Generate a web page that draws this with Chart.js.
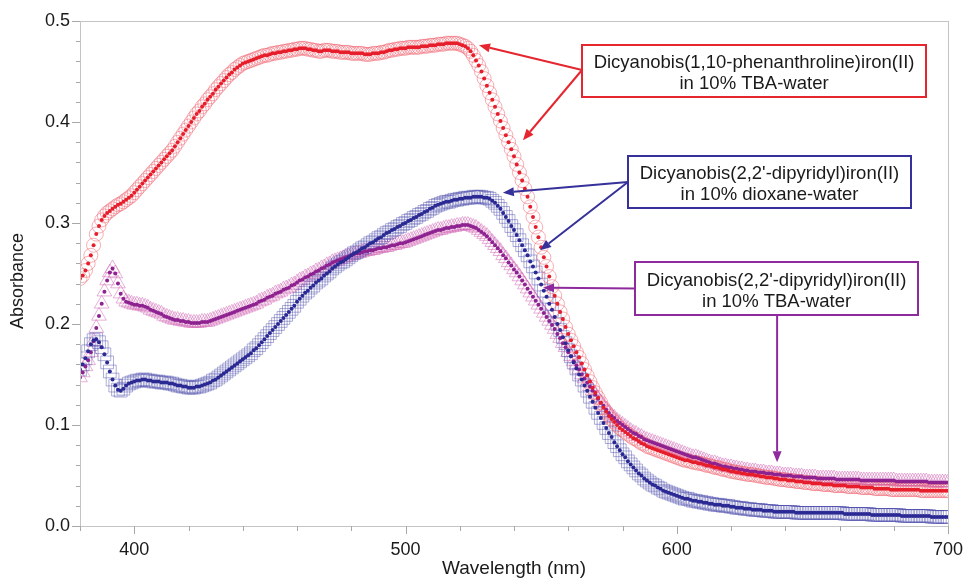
<!DOCTYPE html>
<html>
<head>
<meta charset="utf-8">
<title>Absorbance spectra</title>
<script src="https://cdn.jsdelivr.net/npm/chart.js@4.4.1/dist/chart.umd.min.js"></script>
<style>
  html, body { margin: 0; padding: 0; background: #ffffff; }
  canvas { display: block; }
</style>
</head>
<body>
<canvas id="absChart" width="967" height="580"></canvas>
<script>
const FONT = '"Liberation Sans", Arial, Helvetica, sans-serif';

// wavelength axis, one reading per nm
const wavelengths = [];
for (let nm = 380; nm <= 700; nm++) {
    wavelengths.push(nm);
}

// Dicyanobis(1,10-phenanthroline)iron(II), 10% TBA-water
const phenTba = [
    0.245,0.248,0.253,0.260,0.268,0.278,0.289,0.297,0.303,0.307, // 380
    0.310,0.312,0.314,0.316,0.318,0.319,0.321,0.323,0.325,0.327, // 390
    0.330,0.333,0.336,0.339,0.342,0.345,0.348,0.351,0.354,0.357, // 400
    0.360,0.363,0.366,0.369,0.372,0.376,0.380,0.384,0.388,0.392, // 410
    0.396,0.400,0.404,0.408,0.411,0.415,0.418,0.422,0.425,0.428, // 420
    0.432,0.435,0.438,0.441,0.444,0.447,0.449,0.452,0.454,0.456, // 430
    0.458,0.459,0.460,0.461,0.462,0.463,0.464,0.465,0.466,0.466, // 440
    0.467,0.468,0.468,0.469,0.469,0.470,0.470,0.471,0.471,0.472, // 450
    0.472,0.473,0.473,0.473,0.472,0.472,0.471,0.471,0.470,0.470, // 460
    0.471,0.471,0.471,0.470,0.470,0.470,0.469,0.469,0.469,0.469, // 470
    0.468,0.468,0.468,0.468,0.468,0.467,0.467,0.467,0.468,0.468, // 480
    0.468,0.469,0.469,0.470,0.471,0.471,0.472,0.472,0.473,0.473, // 490
    0.473,0.474,0.474,0.474,0.474,0.474,0.475,0.475,0.475,0.476, // 500
    0.476,0.476,0.477,0.477,0.477,0.478,0.478,0.478,0.478,0.478, // 510
    0.477,0.476,0.475,0.473,0.470,0.466,0.461,0.456,0.450,0.443, // 520
    0.436,0.429,0.422,0.415,0.408,0.401,0.394,0.387,0.380,0.373, // 530
    0.366,0.358,0.350,0.342,0.334,0.326,0.316,0.306,0.296,0.286, // 540
    0.276,0.266,0.257,0.247,0.237,0.228,0.220,0.212,0.205,0.197, // 550
    0.190,0.184,0.178,0.172,0.167,0.161,0.155,0.149,0.143,0.137, // 560
    0.132,0.127,0.122,0.117,0.113,0.109,0.106,0.103,0.100,0.097, // 570
    0.095,0.093,0.091,0.089,0.087,0.086,0.084,0.082,0.081,0.079, // 580
    0.078,0.077,0.076,0.075,0.074,0.073,0.072,0.071,0.070,0.069, // 590
    0.068,0.067,0.066,0.065,0.065,0.064,0.063,0.063,0.062,0.062, // 600
    0.061,0.060,0.060,0.059,0.058,0.058,0.057,0.056,0.056,0.055, // 610
    0.054,0.054,0.053,0.053,0.052,0.052,0.051,0.051,0.051,0.050, // 620
    0.050,0.049,0.049,0.048,0.048,0.048,0.047,0.047,0.046,0.046, // 630
    0.046,0.045,0.045,0.045,0.044,0.044,0.044,0.043,0.043,0.043, // 640
    0.042,0.042,0.042,0.042,0.041,0.041,0.041,0.041,0.040,0.040, // 650
    0.040,0.040,0.040,0.039,0.039,0.039,0.039,0.039,0.038,0.038, // 660
    0.038,0.038,0.038,0.037,0.037,0.037,0.037,0.037,0.037,0.036, // 670
    0.036,0.036,0.036,0.036,0.036,0.036,0.036,0.036,0.036,0.036, // 680
    0.035,0.035,0.035,0.035,0.035,0.035,0.035,0.035,0.035,0.035, // 690
    0.035                                                        // 700
];

// Dicyanobis(2,2'-dipyridyl)iron(II), 10% dioxane-water
const bipyDioxane = [
    0.155,0.160,0.166,0.173,0.180,0.184,0.185,0.182,0.177,0.170, // 380
    0.162,0.153,0.145,0.139,0.135,0.134,0.136,0.139,0.141,0.142, // 390
    0.143,0.144,0.144,0.145,0.145,0.144,0.144,0.143,0.143,0.143, // 400
    0.142,0.142,0.142,0.141,0.141,0.140,0.139,0.139,0.138,0.138, // 410
    0.137,0.137,0.137,0.138,0.138,0.139,0.140,0.141,0.142,0.144, // 420
    0.145,0.147,0.149,0.151,0.153,0.155,0.157,0.159,0.161,0.163, // 430
    0.165,0.167,0.169,0.171,0.174,0.176,0.179,0.182,0.185,0.188, // 440
    0.191,0.194,0.197,0.200,0.203,0.206,0.209,0.212,0.215,0.218, // 450
    0.222,0.225,0.228,0.231,0.233,0.236,0.238,0.241,0.243,0.245, // 460
    0.248,0.250,0.252,0.255,0.257,0.259,0.261,0.262,0.264,0.266, // 470
    0.268,0.270,0.271,0.273,0.275,0.276,0.278,0.280,0.281,0.283, // 480
    0.285,0.286,0.288,0.290,0.291,0.293,0.294,0.296,0.297,0.299, // 490
    0.300,0.302,0.303,0.305,0.306,0.308,0.309,0.311,0.312,0.314, // 500
    0.315,0.317,0.318,0.319,0.320,0.321,0.321,0.322,0.323,0.323, // 510
    0.324,0.324,0.325,0.325,0.325,0.326,0.326,0.326,0.326,0.325, // 520
    0.325,0.324,0.322,0.320,0.317,0.314,0.310,0.306,0.302,0.297, // 530
    0.293,0.288,0.283,0.278,0.273,0.268,0.262,0.257,0.251,0.245, // 540
    0.239,0.233,0.227,0.220,0.214,0.207,0.200,0.194,0.187,0.181, // 550
    0.174,0.168,0.162,0.156,0.150,0.145,0.139,0.134,0.128,0.123, // 560
    0.117,0.112,0.107,0.102,0.097,0.092,0.088,0.083,0.079,0.075, // 570
    0.071,0.068,0.064,0.061,0.058,0.055,0.052,0.050,0.047,0.045, // 580
    0.043,0.041,0.040,0.038,0.037,0.035,0.034,0.033,0.032,0.031, // 590
    0.030,0.029,0.028,0.027,0.027,0.026,0.025,0.025,0.024,0.024, // 600
    0.023,0.023,0.022,0.022,0.021,0.021,0.021,0.020,0.020,0.020, // 610
    0.019,0.019,0.018,0.018,0.018,0.017,0.017,0.017,0.016,0.016, // 620
    0.016,0.016,0.015,0.015,0.015,0.015,0.014,0.014,0.014,0.014, // 630
    0.014,0.014,0.014,0.014,0.013,0.013,0.013,0.013,0.013,0.013, // 640
    0.013,0.013,0.013,0.013,0.013,0.013,0.013,0.013,0.013,0.013, // 650
    0.013,0.013,0.012,0.012,0.012,0.012,0.012,0.012,0.012,0.012, // 660
    0.012,0.012,0.011,0.011,0.011,0.011,0.011,0.011,0.011,0.011, // 670
    0.011,0.011,0.011,0.010,0.010,0.010,0.010,0.010,0.010,0.010, // 680
    0.010,0.010,0.010,0.010,0.009,0.009,0.009,0.009,0.009,0.009, // 690
    0.009                                                        // 700
];

// Dicyanobis(2,2'-dipyridyl)iron(II), 10% TBA-water
const bipyTba = [
    0.147,0.152,0.158,0.164,0.172,0.183,0.196,0.208,0.220,0.232, // 380
    0.243,0.251,0.255,0.250,0.240,0.230,0.225,0.222,0.221,0.220, // 390
    0.219,0.219,0.218,0.218,0.217,0.216,0.214,0.213,0.212,0.211, // 400
    0.210,0.208,0.207,0.206,0.205,0.204,0.204,0.203,0.203,0.202, // 410
    0.202,0.201,0.201,0.201,0.201,0.202,0.202,0.202,0.203,0.204, // 420
    0.205,0.206,0.207,0.208,0.209,0.210,0.211,0.212,0.213,0.214, // 430
    0.215,0.216,0.217,0.218,0.219,0.220,0.222,0.223,0.224,0.226, // 440
    0.227,0.228,0.230,0.231,0.232,0.234,0.235,0.236,0.238,0.239, // 450
    0.241,0.243,0.244,0.246,0.247,0.249,0.250,0.252,0.253,0.255, // 460
    0.256,0.258,0.259,0.261,0.262,0.263,0.264,0.265,0.266,0.267, // 470
    0.268,0.269,0.270,0.270,0.271,0.272,0.272,0.273,0.273,0.274, // 480
    0.275,0.275,0.276,0.276,0.277,0.278,0.278,0.279,0.280,0.280, // 490
    0.281,0.282,0.283,0.284,0.285,0.286,0.287,0.288,0.289,0.290, // 500
    0.291,0.292,0.293,0.293,0.294,0.295,0.295,0.296,0.296,0.297, // 510
    0.297,0.298,0.298,0.298,0.297,0.296,0.295,0.293,0.291,0.289, // 520
    0.287,0.284,0.281,0.278,0.275,0.272,0.268,0.265,0.261,0.258, // 530
    0.254,0.251,0.247,0.243,0.239,0.235,0.231,0.227,0.223,0.219, // 540
    0.215,0.211,0.207,0.203,0.199,0.195,0.190,0.186,0.181,0.177, // 550
    0.172,0.168,0.163,0.159,0.155,0.150,0.146,0.142,0.138,0.134, // 560
    0.130,0.126,0.122,0.119,0.115,0.112,0.109,0.107,0.104,0.102, // 570
    0.100,0.098,0.096,0.094,0.092,0.091,0.089,0.088,0.086,0.085, // 580
    0.084,0.083,0.082,0.081,0.080,0.079,0.078,0.077,0.076,0.075, // 590
    0.074,0.073,0.072,0.071,0.070,0.069,0.068,0.068,0.067,0.066, // 600
    0.065,0.064,0.063,0.062,0.062,0.061,0.060,0.059,0.059,0.058, // 610
    0.058,0.057,0.057,0.056,0.056,0.055,0.055,0.054,0.054,0.054, // 620
    0.053,0.053,0.053,0.052,0.052,0.052,0.051,0.051,0.051,0.050, // 630
    0.050,0.050,0.050,0.049,0.049,0.049,0.049,0.048,0.048,0.048, // 640
    0.048,0.048,0.047,0.047,0.047,0.047,0.047,0.047,0.047,0.046, // 650
    0.046,0.046,0.046,0.046,0.046,0.046,0.046,0.046,0.045,0.045, // 660
    0.045,0.045,0.045,0.045,0.045,0.045,0.045,0.045,0.045,0.045, // 670
    0.045,0.044,0.044,0.044,0.044,0.044,0.044,0.044,0.044,0.044, // 680
    0.044,0.044,0.044,0.043,0.043,0.043,0.043,0.043,0.043,0.043, // 690
    0.043                                                        // 700
];

const xTicksMajor = [400, 500, 600, 700];
const yTicksMajor = ['0.0', '0.1', '0.2', '0.3', '0.4', '0.5'];

// callout boxes: centre in data units, arrows from a box side to a data point
const callouts = [
    {
        lines: ['Dicyanobis(1,10-phenanthroline)iron(II)', 'in 10% TBA-water'],
        color: '#e5262f', at: [628.5, 0.4505], size: [344, 52],
        arrows: [{ from: 'left', dy: -1, tip: [527.1, 0.476] }, { from: 'left', dy: -1, tip: [543.3, 0.382] }]
    },
    {
        lines: ['Dicyanobis(2,2\'-dipyridyl)iron(II)', 'in 10% dioxane-water'],
        color: '#36309a', at: [634.2, 0.3406], size: [283, 52],
        arrows: [{ from: 'left', dy: 0, tip: [535.9, 0.330] }, { from: 'left', dy: 0, tip: [549.6, 0.273] }]
    },
    {
        lines: ['Dicyanobis(2,2\'-dipyridyl)iron(II)', 'in 10% TBA-water'],
        color: '#8e2a9e', at: [636.8, 0.2351], size: [283, 53],
        arrows: [{ from: 'left', dy: 0, tip: [550.7, 0.236] }, { from: 'bottom', dy: 0, tip: [637.0, 0.063] }]
    }
];

function toPoints(values) {
    return values.map((v, i) => ({ x: wavelengths[i], y: v }));
}

function ringSet(label, values, style, radius, color, order) {
    return {
        label: label,
        data: toPoints(values),
        pointStyle: style,
        pointRadius: radius,
        pointBackgroundColor: 'transparent',
        pointBorderColor: color,
        pointBorderWidth: 1,
        order: order
    };
}

function dotSet(label, values, color, order) {
    return {
        label: label,
        data: toPoints(values),
        pointStyle: 'circle',
        pointRadius: 2,
        pointBackgroundColor: color,
        pointBorderWidth: 0,
        order: order
    };
}

function arrow(ctx, x0, y0, x1, y1) {
    const ang = Math.atan2(y1 - y0, x1 - x0);
    const len = 11, half = 4.5;
    const bx = x1 - Math.cos(ang) * len, by = y1 - Math.sin(ang) * len;
    ctx.beginPath();
    ctx.moveTo(x0, y0);
    ctx.lineTo(bx, by);
    ctx.stroke();
    ctx.beginPath();
    ctx.moveTo(x1, y1);
    ctx.lineTo(bx + Math.sin(ang) * half, by - Math.cos(ang) * half);
    ctx.lineTo(bx - Math.sin(ang) * half, by + Math.cos(ang) * half);
    ctx.closePath();
    ctx.fill();
}

const framePlugin = {
    id: 'frame',
    afterDraw(chart) {
        const { ctx, chartArea: a, scales: { x, y } } = chart;
        ctx.save();

        // plot frame
        ctx.strokeStyle = '#c4c4c4';
        ctx.lineWidth = 1;
        ctx.strokeRect(a.left + 0.5, a.top + 0.5, a.right - a.left, a.bottom - a.top);

        // tick marks, longer at labelled values
        ctx.strokeStyle = '#a8a8a8';
        ctx.beginPath();
        x.ticks.forEach(t => {
            const px = Math.round(x.getPixelForValue(t.value)) + 0.5;
            const len = xTicksMajor.includes(t.value) ? 8 : 5;
            ctx.moveTo(px, a.bottom);
            ctx.lineTo(px, a.bottom + len);
        });
        y.ticks.forEach(t => {
            const py = Math.round(y.getPixelForValue(t.value)) + 0.5;
            const len = Math.round(t.value * 50) % 5 === 0 ? 8 : 4;
            ctx.moveTo(a.left, py);
            ctx.lineTo(a.left - len, py);
        });
        ctx.stroke();

        // axis titles
        ctx.fillStyle = '#1a1a1a';
        ctx.textAlign = 'center';
        ctx.textBaseline = 'middle';
        ctx.font = '19px ' + FONT;
        ctx.fillText('Wavelength (nm)', (a.left + a.right) / 2, 569);
        ctx.save();
        ctx.translate(18, 281);
        ctx.rotate(-Math.PI / 2);
        ctx.font = '18px ' + FONT;
        ctx.fillText('Absorbance', 0, 0);
        ctx.restore();

        // callouts
        callouts.forEach(c => {
            const cx = x.getPixelForValue(c.at[0]);
            const cy = y.getPixelForValue(c.at[1]);
            const w = c.size[0], h = c.size[1];
            const left = Math.round(cx - w / 2), top = Math.round(cy - h / 2);
            ctx.strokeStyle = c.color;
            ctx.fillStyle = c.color;
            ctx.lineWidth = 2;
            c.arrows.forEach(ar => {
                let sx, sy;
                if (ar.from === 'left') {
                    sx = left; sy = cy + ar.dy;
                } else {
                    sx = x.getPixelForValue(ar.tip[0]); sy = top + h;
                }
                arrow(ctx, sx, sy, x.getPixelForValue(ar.tip[0]), y.getPixelForValue(ar.tip[1]));
            });
            ctx.fillStyle = '#ffffff';
            ctx.fillRect(left, top, w, h);
            ctx.strokeRect(left, top, w, h);
            ctx.fillStyle = '#1a1a1a';
            ctx.font = '18.5px ' + FONT;
            ctx.textAlign = 'center';
            ctx.textBaseline = 'alphabetic';
            ctx.fillText(c.lines[0], cx, cy - 3);
            ctx.fillText(c.lines[1], cx, cy + 18);
        });

        ctx.restore();
    }
};

const ctx = document.getElementById('absChart');

new Chart(ctx, {
    type: 'scatter',
    data: {
        datasets: [
            ringSet('bipy TBA', bipyTba, 'triangle', 8.5, 'rgba(210,100,180,0.5)', 15),
            ringSet('bipy dioxane', bipyDioxane, 'rect', 9, 'rgba(75,75,170,0.45)', 14),
            ringSet('phen TBA', phenTba, 'circle', 7, 'rgba(240,95,110,0.5)', 13),
            dotSet('bipy TBA', bipyTba, '#8d2290', 12),
            dotSet('bipy dioxane', bipyDioxane, '#2b2a94', 11),
            dotSet('phen TBA', phenTba, '#e61e2b', 10)
        ]
    },
    options: {
        responsive: false,
        devicePixelRatio: 1,
        animation: false,
        events: [],
        layout: {
            padding: { top: 21, right: 19, left: 0, bottom: 0 }
        },
        plugins: {
            legend: { display: false },
            tooltip: { enabled: false }
        },
        scales: {
            x: {
                type: 'linear',
                min: 380,
                max: 700,
                border: { display: false },
                grid: { display: false, drawTicks: false },
                ticks: {
                    stepSize: 20,
                    autoSkip: false,
                    maxRotation: 0,
                    padding: 13,
                    color: '#1a1a1a',
                    font: { family: FONT, size: 18 },
                    callback: v => xTicksMajor.includes(v) ? String(v) : ''
                },
                // fixed band height; end labels may overhang the padding
                afterFit: s => {
                    s.height = 54;
                    s.paddingLeft = 0;
                    s.paddingRight = 0;
                }
            },
            y: {
                min: 0,
                max: 0.5,
                border: { display: false },
                grid: { display: false, drawTicks: false },
                ticks: {
                    stepSize: 0.02,
                    autoSkip: false,
                    padding: 10,
                    color: '#1a1a1a',
                    font: { family: FONT, size: 18 },
                    callback: v => {
                        const n = Math.round(v * 50);
                        return n % 5 === 0 ? yTicksMajor[n / 5] : '';
                    }
                },
                afterFit: s => {
                    s.width = 80;
                    s.paddingTop = 0;
                    s.paddingBottom = 0;
                }
            }
        }
    },
    plugins: [framePlugin]
});
</script>
</body>
</html>
